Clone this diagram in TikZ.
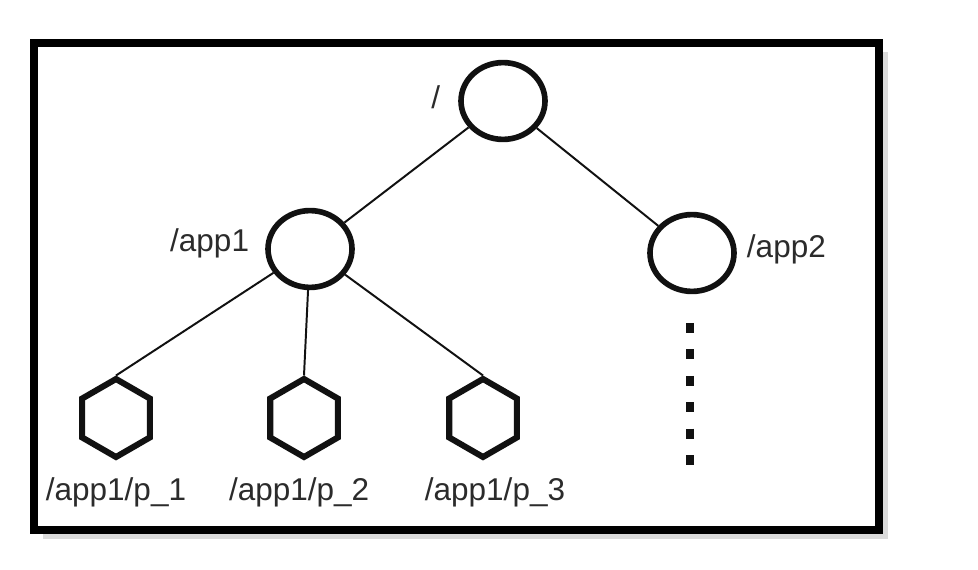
\documentclass[tikz,border=0pt]{standalone}
\usepackage{fontspec}
\setmainfont{Liberation Sans}
\usetikzlibrary{
  shapes.geometric,
  shadows,
  positioning
}
\definecolor{zkLine}{HTML}{111111}
\definecolor{zkText}{HTML}{2B2B2B}
\definecolor{zkShade}{HTML}{8A8A8A}
\tikzset{
  znode/.style={
    draw=zkLine, ellipse, line width=4pt, fill=white, inner sep=0pt,
    minimum width=2.1cm, minimum height=1.92cm,
    drop shadow={shadow xshift=1.5pt, shadow yshift=-1.5pt, opacity=0.12, fill=zkShade}
  },
  zleaf/.style={
    draw=zkLine, regular polygon, regular polygon sides=6, shape border rotate=30,
    line width=4.3pt, fill=white, inner sep=0pt, minimum size=1.95cm,
    drop shadow={shadow xshift=1.5pt, shadow yshift=-1.5pt, opacity=0.12, fill=zkShade}
  },
  ztag/.style={font=\fontsize{22.4}{26}\selectfont, text=zkText, inner sep=0.3333em},
  zedge/.style={line width=1.4pt, zkLine},
  zmore/.style={line width=0.2cm, zkLine, dash pattern=on 0.25cm off 0.41cm},
  zframe/.style={
    draw=black, line width=0.2cm, fill=white,
    drop shadow={shadow xshift=0.22cm, shadow yshift=-0.22cm, opacity=0.3, fill=zkShade}
  }
}

\begin{document}
\begin{tikzpicture}
  \useasboundingbox[fill=white] (0,0) rectangle (24.45,14.225);
  \draw[zframe] (0.85,0.975) rectangle (21.975,13.15);

  \node[znode, label={[ztag, label distance=0.33cm, yshift=0.1cm]left:/}] (root) at (12.575,11.7) {};
  \node[znode, label={[ztag, label distance=0.28cm, yshift=0.15cm]left:/app1}] (app1) at (7.75,8.0) {};
  \node[znode, label={[ztag, label distance=0.13cm, yshift=0.1cm]right:/app2}] (app2) at (17.3,7.9) {};

  \node[zleaf, label={[ztag, label distance=0.3cm]below:/app1/p\_1}] (p1) at (2.9,3.775) {};
  \node[zleaf, label={[ztag, label distance=0.3cm, xshift=-0.12cm]below:/app1/p\_2}] (p2) at (7.6,3.775) {};
  \node[zleaf, label={[ztag, label distance=0.3cm, xshift=0.3cm]below:/app1/p\_3}] (p3) at (12.075,3.775) {};

  \coordinate (more top) at (17.25,6.15);
  \coordinate (more end) at (17.25,2.6);

  \draw[zedge] (root) -- (app1);
  \draw[zedge] (root) -- (app2);
  \draw[zedge] (app1) -- (p1.north);
  \draw[zedge] (app1) -- (p2.north);
  \draw[zedge] (app1) -- (p3.north);
  \draw[zmore] (more top) -- (more end);
\end{tikzpicture}
\end{document}
